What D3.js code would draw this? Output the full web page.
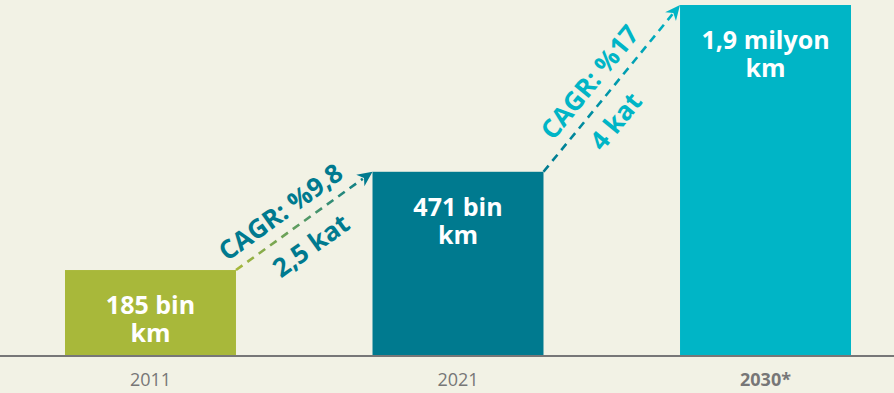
<!DOCTYPE html>
<html>
<head>
<meta charset="utf-8">
<script src="https://cdn.jsdelivr.net/npm/d3@7"></script>
<style>
  html, body { margin: 0; padding: 0; background: #f2f2e5; }
  svg { display: block; }
</style>
</head>
<body>
<svg id="chart" width="894" height="393"></svg>
<script>
// Network length by year (km)
const years = ["2011", "2021", "2030*"];
const lengthsKm = [185000, 471000, 1900000];
const valueLines = [["185 bin", "km"], ["471 bin", "km"], ["1,9 milyon", "km"]];
const growthRates = ["CAGR: %9,8", "CAGR: %17"];
const multiples = ["2,5 kat", "4 kat"];
const barColors = ["#a8b83a", "#007a8f", "#00b5c6"];

const W = 894, H = 393;
const baseY = 355;
const font = "'Open Sans', sans-serif";

const svg = d3.select("#chart");
svg.append("rect").attr("width", W).attr("height", H).attr("fill", "#f2f2e5");

const x = d3.scaleBand().domain(years).range([65, 851]).paddingInner(0.444);
// Strongly compressed power scale so the small early values stay visible
const y = d3.scalePow().exponent(0.11).domain([75700, 1900000]).range([baseY, 5]);

const data = years.map((yr, i) => ({ yr, v: lengthsKm[i], lines: valueLines[i], color: barColors[i] }));

// Bars
svg.selectAll("rect.bar").data(data).join("rect")
  .attr("class", "bar")
  .attr("x", d => x(d.yr))
  .attr("y", d => y(d.v))
  .attr("width", x.bandwidth())
  .attr("height", d => baseY - y(d.v))
  .attr("fill", d => d.color);

// Value labels inside bars (one text per line)
data.forEach(d => {
  d.lines.forEach((t, j) => {
    svg.append("text")
      .attr("class", "val")
      .attr("x", x(d.yr) + x.bandwidth() / 2)
      .attr("y", y(d.v) + 44 + j * 28)
      .attr("text-anchor", "middle")
      .attr("fill", "#ffffff")
      .attr("font-family", font)
      .attr("font-weight", 700)
      .attr("font-size", 25)
      .text(t);
  });
});

// Baseline
svg.append("line")
  .attr("x1", 0).attr("x2", W)
  .attr("y1", baseY + 1).attr("y2", baseY + 1)
  .attr("stroke", "#777777").attr("stroke-width", 2);

// Category labels
svg.selectAll("text.cat").data(data).join("text")
  .attr("class", "cat")
  .attr("x", d => x(d.yr) + x.bandwidth() / 2)
  .attr("y", 386)
  .attr("text-anchor", "middle")
  .attr("fill", "#777777")
  .attr("font-family", font)
  .attr("font-size", 18)
  .attr("font-weight", (d, i) => i === years.length - 1 ? 700 : 400)
  .text(d => d.yr);

// Growth arrows between bar tops
const defs = svg.append("defs");
for (let i = 0; i < years.length - 1; i++) {
  const a = data[i], b = data[i + 1];
  const x1 = x(a.yr) + x.bandwidth(), y1 = y(a.v);
  const x2 = x(b.yr), y2 = y(b.v);
  const dx = x2 - x1, dy = y2 - y1;
  const len = Math.hypot(dx, dy);
  const ux = dx / len, uy = dy / len;
  const ang = Math.atan2(dy, dx) * 180 / Math.PI;

  const gid = "grad" + i;
  const g = defs.append("linearGradient").attr("id", gid)
    .attr("gradientUnits", "userSpaceOnUse")
    .attr("x1", x1).attr("y1", y1).attr("x2", x2).attr("y2", y2);
  g.append("stop").attr("offset", "0%").attr("stop-color", a.color);
  g.append("stop").attr("offset", "100%").attr("stop-color", b.color);

  const headLen = 15, headW = 14;
  svg.append("line")
    .attr("x1", x1).attr("y1", y1)
    .attr("x2", x2 - ux * headLen * 0.8).attr("y2", y2 - uy * headLen * 0.8)
    .attr("stroke", `url(#${gid})`)
    .attr("stroke-width", 2.6)
    .attr("stroke-dasharray", "8,6");

  // Arrowhead
  const bx = x2 - ux * headLen, by = y2 - uy * headLen;
  const px = -uy, py = ux;
  svg.append("path")
    .attr("d", `M${x2},${y2}L${bx + px * headW / 2},${by + py * headW / 2}L${x2 - ux * headLen * 0.7},${y2 - uy * headLen * 0.7}L${bx - px * headW / 2},${by - py * headW / 2}Z`)
    .attr("fill", b.color);

  // Rotated annotation text along the arrow
  const textColor = b.color;
  const mx = (x1 + x2) / 2, my = (y1 + y2) / 2;
  const gt = svg.append("g").attr("transform", `translate(${mx},${my}) rotate(${ang})`);
  gt.append("text")
    .attr("x", i === 0 ? -14 : -9).attr("y", -21)
    .attr("dy", "0.35em")
    .attr("text-anchor", "middle")
    .attr("fill", textColor)
    .attr("font-family", font).attr("font-weight", 700).attr("font-size", 26)
    .text(growthRates[i]);
  gt.append("text")
    .attr("x", i === 0 ? -9 : -23).attr("y", 24)
    .attr("dy", "0.35em")
    .attr("text-anchor", "middle")
    .attr("fill", textColor)
    .attr("font-family", font).attr("font-weight", 700).attr("font-size", 26)
    .text(multiples[i]);
}
</script>
</body>
</html>
